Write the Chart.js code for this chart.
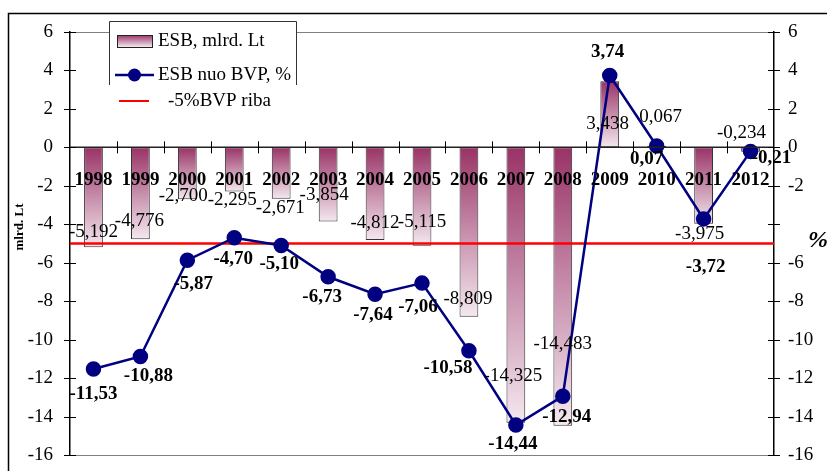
<!DOCTYPE html>
<html lang="lt">
<head>
  <meta charset="UTF-8" />
  <title>ESB</title>
  <script src="https://cdn.jsdelivr.net/npm/chart.js@4.4.1/dist/chart.umd.min.js"></script>
  <style>
    html, body { margin: 0; padding: 0; background: white; }
    #wrap { width: 827px; height: 471px; }
  </style>
</head>
<body>
  <div id="wrap"><canvas id="esbChart" width="827" height="471"></canvas></div>

  <script>
    // Data
    const years = ['1998', '1999', '2000', '2001', '2002', '2003', '2004', '2005',
                   '2006', '2007', '2008', '2009', '2010', '2011', '2012'];
    const esbMlrd = [-5.192, -4.776, -2.700, -2.295, -2.671, -3.854, -4.812, -5.115,
                     -8.809, -14.325, -14.483, 3.438, 0.067, -3.975, -0.234];
    const esbBvp = [-11.53, -10.88, -5.87, -4.70, -5.10, -6.73, -7.64, -7.06,
                    -10.58, -14.44, -12.94, 3.74, 0.07, -3.72, -0.21];
    const ribaLevel = -5;
    const axisMin = -16;
    const axisMax = 6;

    // label offsets (px) so the numbers sit where they were in the original
    const barLabelDx = [0, -1, -4, -2, -1, -4, 0, 0, -1, -3, 0, -2, 4, -4, -9];
    const barLabelDy = [-15, -18, -3, 9, 9, -26, -17, -24, -18, -47, -82, 43, -29, 10, -19];
    const lineLabelDx = [0, 8, 6, -1, -2, -6, -2, -4, -21, -3, 4, -2, -10, 2, 21];
    const lineLabelDy = [25, 20, 24, 21, 19, 20, 21, 24, 17, 19, 21, -23, 13, 48, 7];

    const serif = '"Liberation Serif", "Times New Roman", serif';
    const barTop = '#993366';
    const barBottom = '#f4e8ef';
    const navy = '#000080';

    function fmt(v, digits) {
      return v.toFixed(digits).replace('.', ',');
    }

    function barGradient(ctx) {
      const chart = ctx.chart;
      if (!chart.chartArea || ctx.type !== 'data') return barTop;
      const y = chart.scales.y;
      const p0 = y.getPixelForValue(0);
      const p1 = y.getPixelForValue(esbMlrd[ctx.dataIndex]);
      const g = chart.ctx.createLinearGradient(0, Math.min(p0, p1), 0, Math.max(p0, p1) + 0.01);
      g.addColorStop(0, barTop);
      g.addColorStop(1, barBottom);
      return g;
    }

    // fixed axis widths, no extra vertical padding from the tick labels
    function fixWidth(w) {
      return function (scale) {
        scale.width = w;
        scale.paddingTop = 0;
        scale.paddingBottom = 0;
      };
    }

    const decorations = {
      id: 'decorations',
      beforeDraw(chart) {
        const c = chart.ctx;
        const a = chart.chartArea;
        c.save();
        // outer frame (runs off the right and bottom)
        c.strokeStyle = '#000';
        c.lineWidth = 1.5;
        c.beginPath();
        c.moveTo(8.5, 480);
        c.lineTo(8.5, 13.5);
        c.lineTo(840, 13.5);
        c.stroke();
        // plot area top and bottom lines
        c.strokeStyle = '#808080';
        c.lineWidth = 1;
        c.beginPath();
        c.moveTo(a.left, a.top + 0.5);
        c.lineTo(a.right, a.top + 0.5);
        c.moveTo(a.left, a.bottom + 0.5);
        c.lineTo(a.right, a.bottom + 0.5);
        c.stroke();
        c.restore();
      },
      afterDatasetDraw(chart, args) {
        if (chart.data.datasets[args.index].type !== 'bar') return;
        // -5% reference line
        const c = chart.ctx;
        const a = chart.chartArea;
        const py = chart.scales.y.getPixelForValue(ribaLevel);
        c.save();
        c.strokeStyle = '#ff0000';
        c.lineWidth = 2.5;
        c.beginPath();
        c.moveTo(a.left, py);
        c.lineTo(a.right, py);
        c.stroke();
        c.restore();
      },
      afterDraw(chart) {
        const c = chart.ctx;
        const a = chart.chartArea;
        const x = chart.scales.x;
        const y = chart.scales.y;
        const y0 = y.getPixelForValue(0);
        c.save();
        // zero line with crossing category ticks
        c.strokeStyle = '#222';
        c.lineWidth = 1.5;
        c.beginPath();
        c.moveTo(a.left, y0);
        c.lineTo(a.right, y0);
        c.stroke();
        c.strokeStyle = '#000';
        c.lineWidth = 1;
        c.beginPath();
        for (let i = 1; i < years.length; i++) {
          const px = Math.round(x.getPixelForValue(i - 0.5)) + 0.5;
          c.moveTo(px, y0 - 6);
          c.lineTo(px, y0 + 6);
        }
        for (let v = axisMin; v <= axisMax; v += 2) {
          const py = Math.round(y.getPixelForValue(v)) + 0.5;
          c.moveTo(a.left - 6, py);
          c.lineTo(a.left + 6, py);
          c.moveTo(a.right - 6, py);
          c.lineTo(a.right + 6, py);
        }
        c.stroke();

        c.fillStyle = '#000';
        c.textAlign = 'center';
        c.textBaseline = 'middle';
        // category labels, on top of the bars
        c.font = 'bold 19px ' + serif;
        years.forEach((yr, i) => {
          c.fillText(yr, x.getPixelForValue(i), y0 + 33);
        });

        // data labels
        const bars = chart.getDatasetMeta(1).data;
        c.font = '19px ' + serif;
        bars.forEach((el, i) => {
          c.fillText(fmt(esbMlrd[i], 3), el.x + barLabelDx[i], el.y + barLabelDy[i]);
        });
        const pts = chart.getDatasetMeta(0).data;
        c.font = 'bold 19px ' + serif;
        pts.forEach((el, i) => {
          c.fillText(fmt(esbBvp[i], 2), el.x + lineLabelDx[i], el.y + lineLabelDy[i]);
        });

        // axis titles
        c.save();
        c.translate(20, 227);
        c.rotate(-Math.PI / 2);
        c.font = 'bold 13px ' + serif;
        c.fillText('mlrd. Lt', 0, 0);
        c.restore();
        c.font = 'italic bold 24px ' + serif;
        c.textAlign = 'left';
        c.fillText('%', 808, 241);

        // legend
        const ds = chart.data.datasets;
        c.fillStyle = '#fff';
        c.fillRect(109, 21, 188, 64);
        c.strokeStyle = '#333';
        c.lineWidth = 1;
        c.beginPath();
        c.moveTo(109.5, 85);
        c.lineTo(109.5, 21.5);
        c.lineTo(296.5, 21.5);
        c.lineTo(296.5, 85);
        c.stroke();

        const g = c.createLinearGradient(0, 35, 0, 47);
        g.addColorStop(0, barTop);
        g.addColorStop(1, barBottom);
        c.fillStyle = g;
        c.fillRect(117, 35, 35, 12);
        c.strokeStyle = '#222';
        c.strokeRect(117.5, 35.5, 35, 12);

        c.strokeStyle = navy;
        c.lineWidth = 2.5;
        c.beginPath();
        c.moveTo(115, 75);
        c.lineTo(154, 75);
        c.stroke();
        c.fillStyle = navy;
        c.beginPath();
        c.arc(134.5, 75, 6.5, 0, Math.PI * 2);
        c.fill();

        c.strokeStyle = '#ff0000';
        c.lineWidth = 2;
        c.beginPath();
        c.moveTo(119, 101);
        c.lineTo(149, 101);
        c.stroke();

        c.fillStyle = '#000';
        c.font = '19px ' + serif;
        c.textAlign = 'left';
        c.fillText(ds[1].label, 158, 41);
        c.fillText(ds[0].label, 158, 75);
        c.fillText('-5%BVP riba', 168, 101);
        c.restore();
      }
    };

    const ctx = document.getElementById('esbChart').getContext('2d');
    new Chart(ctx, {
      data: {
        labels: years,
        datasets: [
          {
            type: 'line',
            label: 'ESB nuo BVP, %',
            data: esbBvp,
            yAxisID: 'y2',
            borderColor: navy,
            borderWidth: 2.5,
            pointRadius: 6.5,
            pointBackgroundColor: navy,
            pointBorderColor: navy,
            tension: 0,
            order: 0
          },
          {
            type: 'bar',
            label: 'ESB, mlrd. Lt',
            data: esbMlrd,
            yAxisID: 'y',
            backgroundColor: barGradient,
            borderColor: '#333',
            borderWidth: 1,
            borderSkipped: false,
            categoryPercentage: 1,
            barPercentage: 0.4,
            order: 1
          }
        ]
      },
      options: {
        responsive: false,
        animation: false,
        layout: { padding: { top: 32, bottom: 16, left: 0, right: 0 } },
        plugins: {
          legend: { display: false },
          tooltip: { enabled: false }
        },
        scales: {
          x: {
            display: false,
            offset: true
          },
          y: {
            position: 'left',
            min: axisMin,
            max: axisMax,
            afterFit: fixWidth(70),
            grid: { display: false, drawTicks: false },
            border: { display: true, color: '#000', width: 1.5 },
            ticks: {
              stepSize: 2,
              color: '#000',
              font: { family: serif, size: 19 },
              padding: 17
            }
          },
          y2: {
            position: 'right',
            min: axisMin,
            max: axisMax,
            afterFit: fixWidth(53),
            grid: { display: false, drawTicks: false },
            border: { display: true, color: '#000', width: 1.5 },
            ticks: {
              stepSize: 2,
              color: '#000',
              font: { family: serif, size: 19 },
              padding: 14,
              callback: v => (v === -4 ? '' : v)
            }
          }
        }
      },
      plugins: [decorations]
    });
  </script>
</body>
</html>
